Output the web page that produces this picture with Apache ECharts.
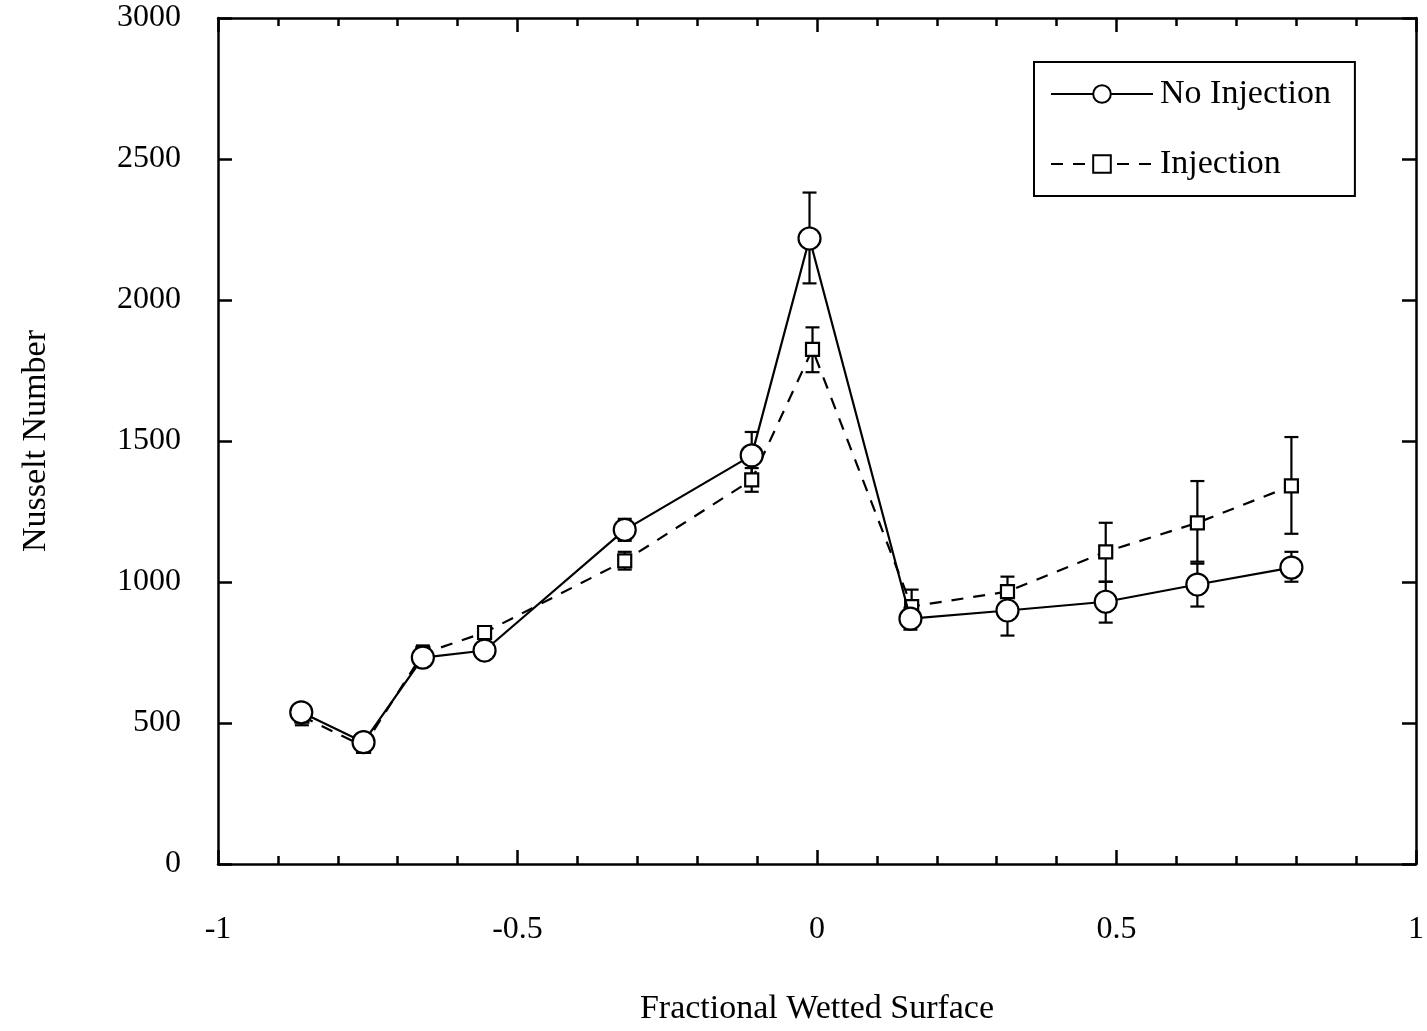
<!DOCTYPE html>
<html>
<head>
<meta charset="utf-8">
<script src="https://cdn.jsdelivr.net/npm/echarts@6/dist/echarts.min.js"></script>
<style>
html,body{margin:0;padding:0;background:#fff;overflow:hidden;}
#chart{width:1427px;height:1031px;}
</style>
</head>
<body>
<div id="chart"></div>
<script>
// ---- data ----
var xNo      = [-0.861, -0.757, -0.658, -0.555, -0.321, -0.109, -0.0125, 0.156, 0.318, 0.482, 0.635, 0.792];
var yNo      = [538, 432, 732, 757, 1185, 1449, 2218, 870, 899, 930, 991, 1051];
var loNo     = [510, 410, 705, 735, 1146, 1369, 2059, 831, 810, 856, 913, 1001];
var hiNo     = [566, 454, 760, 780, 1224, 1532, 2381, 909, 988, 1001, 1065, 1107];

var xInj     = [-0.860, -0.757, -0.658, -0.555, -0.321, -0.109, -0.0075, 0.158, 0.318, 0.482, 0.635, 0.792];
var yInj     = [524, 417, 746, 821, 1075, 1362, 1825, 913, 966, 1107, 1210, 1341];
var loInj    = [492, 400, 717, 800, 1044, 1320, 1744, 853, 913, 1001, 1072, 1171];
var hiInj    = [556, 434, 775, 842, 1107, 1404, 1903, 973, 1019, 1210, 1358, 1514];

var seriesNames = ['No Injection', 'Injection'];
var xTitle = 'Fractional Wetted Surface';
var yTitle = 'Nusselt Number';

function pairs(xs, ys) { return xs.map(function (x, i) { return [x, ys[i]]; }); }
function errData(xs, lo, hi) { return xs.map(function (x, i) { return [x, lo[i], hi[i]]; }); }

function errRender(params, api) {
  var x = api.value(0);
  var p1 = api.coord([x, api.value(1)]);
  var p2 = api.coord([x, api.value(2)]);
  var cap = 7;
  var st = { stroke: '#000', lineWidth: 2.2 };
  return {
    type: 'group',
    children: [
      { type: 'line', shape: { x1: p1[0], y1: p1[1], x2: p2[0], y2: p2[1] }, style: st },
      { type: 'line', shape: { x1: p1[0] - cap, y1: p1[1], x2: p1[0] + cap, y2: p1[1] }, style: st },
      { type: 'line', shape: { x1: p2[0] - cap, y1: p2[1], x2: p2[0] + cap, y2: p2[1] }, style: st }
    ]
  };
}

var font = '"Liberation Serif", "DejaVu Serif", serif';
var el = document.getElementById('chart');
var chart = echarts.init(el, null, { renderer: 'canvas', width: 1427, height: 1031 });

var axisLine = { show: true, onZero: false, lineStyle: { color: '#000', width: 2.5 } };
var xCommon = {
  type: 'value', min: -1, max: 1, interval: 0.5,
  splitLine: { show: false },
  axisLine: axisLine,
  axisTick: { show: true, inside: true, length: 14, lineStyle: { color: '#000', width: 2.5 } },
  minorTick: { show: true, splitNumber: 5, length: 8, lineStyle: { color: '#000', width: 2.5 } }
};
var yCommon = {
  type: 'value', min: 0, max: 3000, interval: 500,
  splitLine: { show: false },
  axisLine: axisLine,
  axisTick: { show: true, inside: true, length: 14, lineStyle: { color: '#000', width: 2.5 } }
};

var option = {
  backgroundColor: '#fff',
  animation: false,
  grid: { left: 218, right: 8, top: 18, bottom: 163 },
  xAxis: [
    Object.assign({}, xCommon, {
      position: 'bottom',
      name: xTitle, nameLocation: 'middle', nameGap: 128,
      nameTextStyle: { fontFamily: font, fontSize: 34, color: '#000' },
      axisLabel: { show: true, margin: 50, fontFamily: font, fontSize: 32, color: '#000',
        formatter: function (v) { return String(v); } }
    }),
    Object.assign({}, xCommon, { position: 'top', axisLabel: { show: false } })
  ],
  yAxis: [
    Object.assign({}, yCommon, {
      position: 'left',
      name: yTitle, nameLocation: 'middle', nameGap: 165,
      nameTextStyle: { fontFamily: font, fontSize: 34, color: '#000' },
      axisLabel: { show: true, margin: 37, fontFamily: font, fontSize: 32, color: '#000',
        padding: [12, 0, 0, 0],
        formatter: function (v) { return String(v); } }
    }),
    Object.assign({}, yCommon, { position: 'right', axisLabel: { show: false } })
  ],
  legend: {
    left: 1034, top: 62,
    orient: 'vertical',
    padding: [15, 24, 15, 16],
    itemGap: 36,
    itemWidth: 102, itemHeight: 22,
    borderColor: '#000', borderWidth: 2,
    backgroundColor: '#fff',
    textStyle: { fontFamily: font, fontSize: 34, color: '#000', padding: [0, 0, 0, 2] },
    data: seriesNames
  },
  series: [
    {
      type: 'custom', name: 'errNo', renderItem: errRender,
      data: errData(xNo, loNo, hiNo), z: 1, silent: true,
      encode: { x: 0, y: [1, 2] }
    },
    {
      type: 'custom', name: 'errInj', renderItem: errRender,
      data: errData(xInj, loInj, hiInj), z: 1, silent: true,
      encode: { x: 0, y: [1, 2] }
    },
    {
      type: 'line', name: seriesNames[1],
      data: pairs(xInj, yInj), z: 3,
      symbol: 'rect', symbolSize: 13, showAllSymbol: true,
      lineStyle: { color: '#000', width: 2.2, type: [12, 10] },
      itemStyle: { color: '#fff', borderColor: '#000', borderWidth: 2.2 }
    },
    {
      type: 'line', name: seriesNames[0],
      data: pairs(xNo, yNo), z: 4,
      symbol: 'circle', symbolSize: 22, showAllSymbol: true,
      lineStyle: { color: '#000', width: 2.2 },
      itemStyle: { color: '#fff', borderColor: '#000', borderWidth: 2.2 }
    }
  ]
};
chart.setOption(option);
</script>
</body>
</html>
